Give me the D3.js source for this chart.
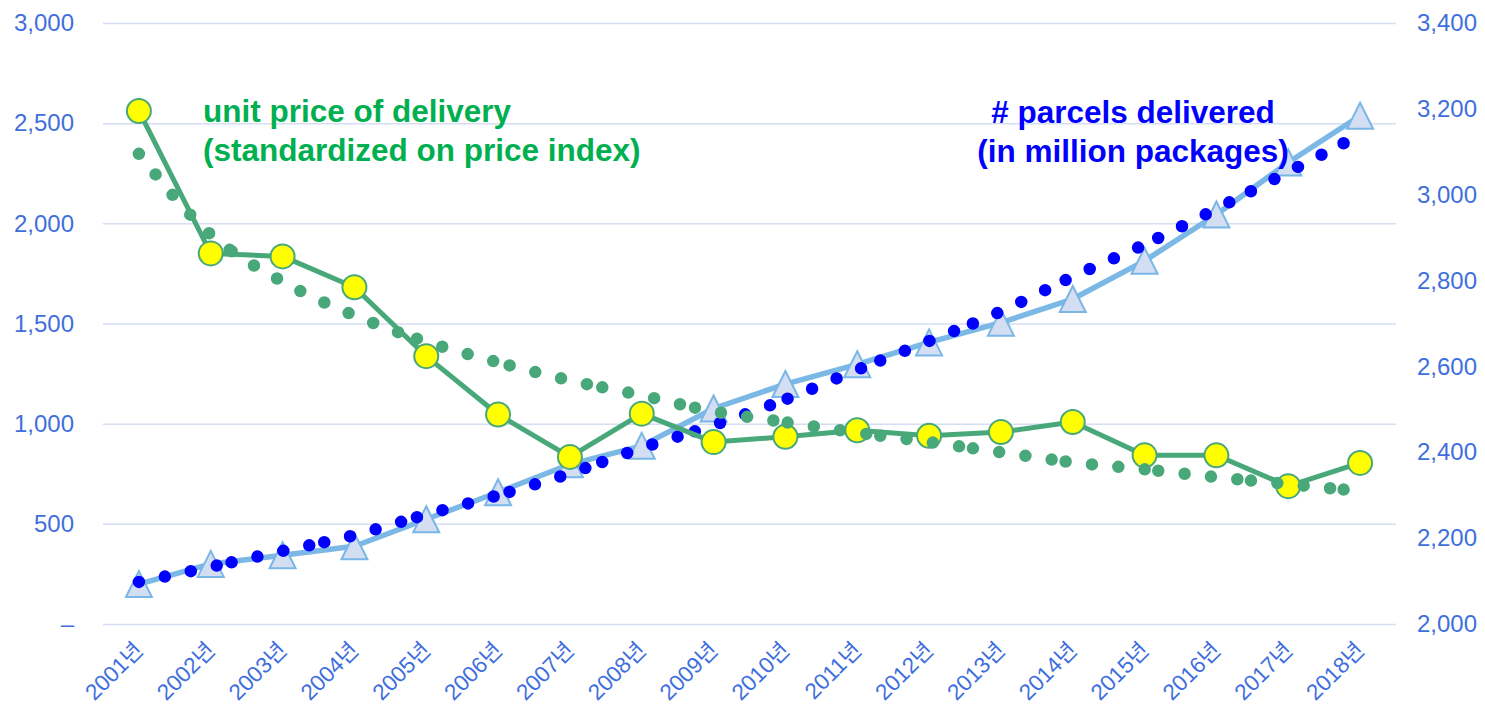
<!DOCTYPE html>
<html>
<head>
<meta charset="utf-8">
<script src="https://cdn.jsdelivr.net/npm/d3@7"></script>
<style>
  body { margin: 0; background: #fff; }
  svg text { font-family: "Liberation Sans", Arial, "Noto Sans CJK KR", sans-serif; }
</style>
</head>
<body>
<svg id="chart" width="1485" height="709"></svg>
<script>
// categories
var years = ['2001년', '2002년', '2003년', '2004년', '2005년', '2006년', '2007년', '2008년', '2009년',
             '2010년', '2011년', '2012년', '2013년', '2014년', '2015년', '2016년', '2017년', '2018년'];

// unit price of delivery (left axis)
var unitPrice = [2561, 1850, 1835, 1681, 1337, 1046, 834, 1050, 908, 935, 967, 940, 958, 1008, 842, 842, 688, 804];
var unitPriceTrend = [2347, 1943, 1709, 1540, 1409, 1306, 1216, 1141, 1061, 1007, 955, 908, 857, 807, 772, 733, 698, 663];

// parcels delivered, million packages (right axis)
var parcels = [2093, 2140, 2160, 2181, 2244, 2307, 2372, 2415, 2502, 2559, 2605, 2656, 2702, 2757, 2846, 2954, 3075, 3184];
var parcelsTrend = [2098, 2133, 2170, 2207, 2255, 2300, 2351, 2410, 2463, 2523, 2592, 2659, 2728, 2809, 2884, 2967, 3053, 3140];

// axis ticks
var leftTicks = [0, 500, 1000, 1500, 2000, 2500, 3000];
var rightTicks = [2000, 2200, 2400, 2600, 2800, 3000, 3200, 3400];

var priceLabel = ['unit price of delivery', '(standardized on price index)'];
var parcelLabel = ['# parcels delivered', '(in million packages)'];

var green = '#49a87a', blue = '#0000ff', lightBlue = '#7cb8e6', tickColor = '#3f6fdc';

var svg = d3.select('#chart');
var plot = { left: 103, right: 1396, top: 23, bottom: 624 };

var x = d3.scaleBand().domain(years).range([plot.left, plot.right]);
var cx = function (d) { return x(d) + x.bandwidth() / 2; };
var yLeft = d3.scaleLinear().domain([0, 3000]).range([plot.bottom, plot.top]);
var yRight = d3.scaleLinear().domain([2000, 3400]).range([plot.bottom, plot.top]);

// left axis + gridlines
var leftAxis = svg.append('g')
    .attr('transform', 'translate(' + plot.left + ',0)')
    .call(d3.axisLeft(yLeft)
        .tickValues(leftTicks)
        .tickSize(-(plot.right - plot.left))
        .tickPadding(29)
        .tickFormat(function (d) { return d === 0 ? '–' : d3.format(',')(d); }));
leftAxis.select('.domain').remove();
leftAxis.selectAll('.tick line').attr('stroke', '#d6def4').attr('stroke-width', 1.5);
leftAxis.selectAll('text').attr('fill', tickColor).attr('font-size', 24).attr('font-family', null);

// right axis
var rightAxis = svg.append('g')
    .attr('transform', 'translate(' + plot.right + ',0)')
    .call(d3.axisRight(yRight).tickValues(rightTicks).tickSize(0).tickPadding(21).tickFormat(d3.format(',')));
rightAxis.select('.domain').remove();
rightAxis.selectAll('text').attr('fill', tickColor).attr('font-size', 24).attr('font-family', null);

// x axis, rotated labels
var xAxis = svg.append('g')
    .attr('transform', 'translate(0,' + plot.bottom + ')')
    .call(d3.axisBottom(x).tickSize(0));
xAxis.select('.domain').remove();
xAxis.selectAll('text')
    .attr('fill', tickColor)
    .attr('font-size', 22.5)
    .attr('font-family', null)
    .attr('x', 0).attr('y', 0).attr('dy', '0.35em')
    .attr('text-anchor', 'end')
    .attr('transform', 'translate(0,22) rotate(-45)');

// Excel-like round-dot dashing: the dash pattern restarts every `step` px in x
function dotTrend(path, step, gap) {
    var node = path.node(), total = node.getTotalLength();
    var x0 = node.getPointAtLength(0).x, x1 = node.getPointAtLength(total).x;
    function lengthAt(px) {
        var lo = 0, hi = total;
        for (var i = 0; i < 30; i++) {
            var mid = (lo + hi) / 2;
            if (node.getPointAtLength(mid).x < px) lo = mid; else hi = mid;
        }
        return lo;
    }
    var marks = [0];
    for (var bx = x0 + step; bx < x1; bx += step) marks.push(lengthAt(bx));
    marks.push(total);
    var dash = [];
    for (var i = 0; i < marks.length - 1; i++) {
        var len = marks[i + 1] - marks[i], at = 0;
        while (at + gap < len - 1) { dash.push(0, gap); at += gap; }
        dash.push(0, len - at);
    }
    path.attr('stroke-dasharray', dash.join(' '));
}

var step = x.bandwidth() * 1.29;

// parcels series
var parcelLine = d3.line().x(function (d, i) { return cx(years[i]); }).y(function (d) { return yRight(d); });
svg.append('path')
    .datum(parcels)
    .attr('d', parcelLine)
    .attr('fill', 'none')
    .attr('stroke', lightBlue)
    .attr('stroke-width', 5.5)
    .attr('stroke-linejoin', 'round');

svg.append('g').selectAll('path')
    .data(parcels)
    .enter()
    .append('path')
    .attr('transform', function (d, i) { return 'translate(' + cx(years[i]) + ',' + yRight(d) + ')'; })
    .attr('d', 'M0,-13L13,13L-13,13Z')
    .attr('fill', '#d3def2')
    .attr('stroke', '#7ab6e6')
    .attr('stroke-width', 2)
    .attr('stroke-linejoin', 'miter');

var parcelTrendPath = svg.append('path')
    .datum(parcelsTrend)
    .attr('d', parcelLine.curve(d3.curveMonotoneX))
    .attr('fill', 'none')
    .attr('stroke', blue)
    .attr('stroke-width', 12.5)
    .attr('stroke-linecap', 'round');
dotTrend(parcelTrendPath, step, 26.5);

// unit price series
var priceLine = d3.line().x(function (d, i) { return cx(years[i]); }).y(function (d) { return yLeft(d); });
svg.append('path')
    .datum(unitPrice)
    .attr('d', priceLine)
    .attr('fill', 'none')
    .attr('stroke', green)
    .attr('stroke-width', 5)
    .attr('stroke-linejoin', 'round');

svg.append('g').selectAll('circle')
    .data(unitPrice)
    .enter()
    .append('circle')
    .attr('cx', function (d, i) { return cx(years[i]); })
    .attr('cy', function (d) { return yLeft(d); })
    .attr('r', 12)
    .attr('fill', '#ffff00')
    .attr('stroke', green)
    .attr('stroke-width', 2);

var priceTrendPath = svg.append('path')
    .datum(unitPriceTrend)
    .attr('d', priceLine.curve(d3.curveMonotoneX))
    .attr('fill', 'none')
    .attr('stroke', green)
    .attr('stroke-width', 12.5)
    .attr('stroke-linecap', 'round');
dotTrend(priceTrendPath, step, 26.5);

// series labels
svg.append('text')
    .attr('font-size', 31.5)
    .attr('font-weight', 'bold')
    .attr('fill', '#00b050')
    .selectAll('tspan')
    .data(priceLabel)
    .enter()
    .append('tspan')
    .attr('x', 203)
    .attr('y', function (d, i) { return 122 + i * 38.5; })
    .text(function (d) { return d; });

svg.append('text')
    .attr('font-size', 31.5)
    .attr('font-weight', 'bold')
    .attr('fill', blue)
    .attr('text-anchor', 'middle')
    .selectAll('tspan')
    .data(parcelLabel)
    .enter()
    .append('tspan')
    .attr('x', 1133)
    .attr('y', function (d, i) { return 123 + i * 38.5; })
    .text(function (d) { return d; });
</script>
</body>
</html>
